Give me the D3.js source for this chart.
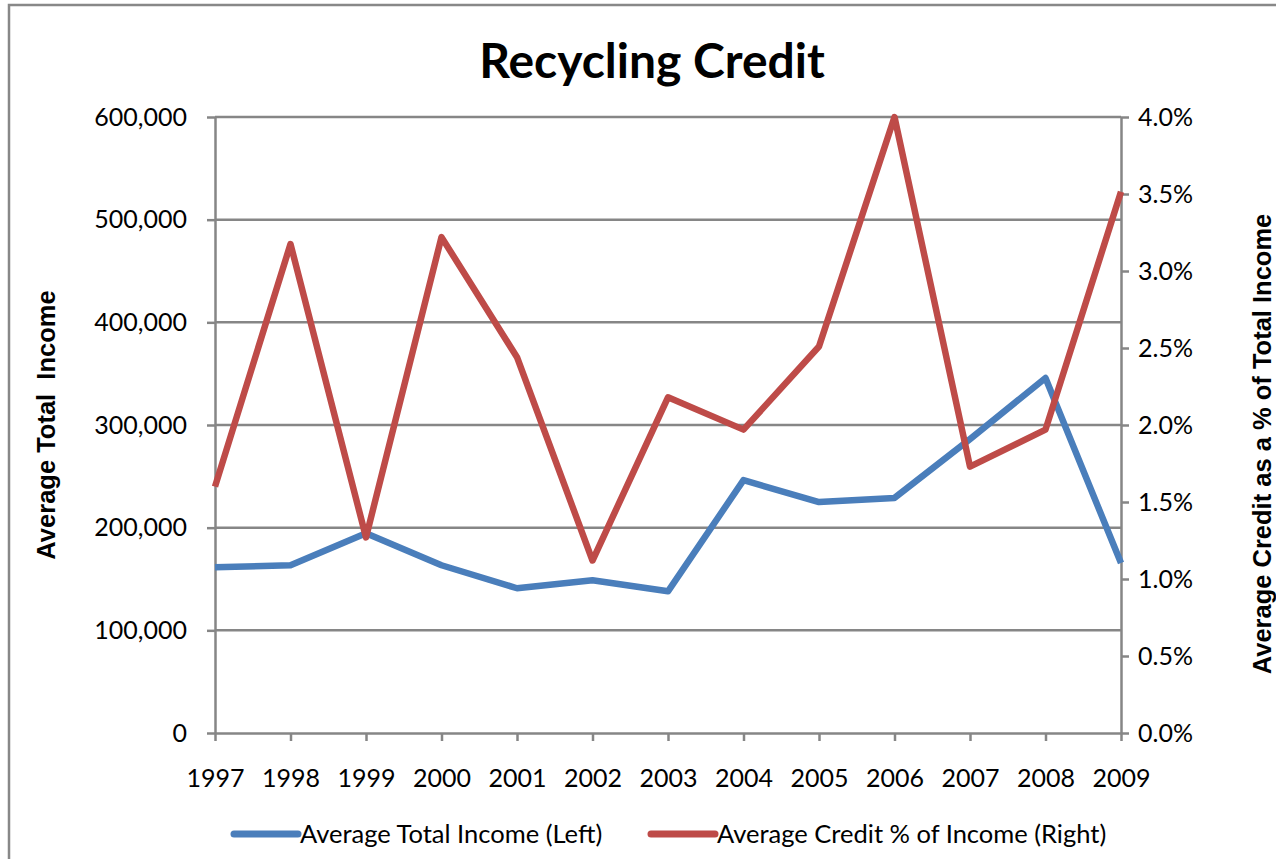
<!DOCTYPE html>
<meta charset="utf-8">
<script src="https://d3js.org/d3.v7.min.js"></script>
<style>
  body { margin: 0; background: #fff; }
  text { font-family: Lato, "Open Sans", sans-serif; fill: #000; }
</style>
<div id="chart"></div>
<script>
// data
var years = [1997, 1998, 1999, 2000, 2001, 2002, 2003, 2004, 2005, 2006, 2007, 2008, 2009];
var avgIncome = [161500, 163400, 194600, 163400, 141000, 148800, 138000, 246300, 224900, 229000, 286300, 345800, 165500];
var creditPct = [1.60, 3.175, 1.27, 3.22, 2.44, 1.12, 2.18, 1.97, 2.51, 4.00, 1.73, 1.97, 3.515];
var leftTicks = [0, 100000, 200000, 300000, 400000, 500000, 600000];
var rightTicks = [0, 0.5, 1, 1.5, 2, 2.5, 3, 3.5, 4];

var W = 1276, H = 859;
var margin = {top: 117, right: 155, bottom: 126, left: 215},
    width = W - margin.left - margin.right,
    height = H - margin.top - margin.bottom;

var svg = d3.select("#chart").append("svg")
    .attr("width", W).attr("height", H);

// outer frame
svg.append("rect")
    .attr("x", 9).attr("y", 5).attr("width", W + 10).attr("height", H + 10)
    .attr("fill", "none").attr("stroke", "#888").attr("stroke-width", 2.5);

var g = svg.append("g").attr("transform", "translate(" + margin.left + "," + margin.top + ")");

var x = d3.scaleLinear().domain([1997, 2009]).range([0, width]);
var yL = d3.scaleLinear().domain([0, 600000]).range([height, 0]);
var yR = d3.scaleLinear().domain([0, 4]).range([height, 0]);

// gridlines
g.append("g").selectAll("line").data(leftTicks.slice(1)).enter().append("line")
    .attr("x1", 0).attr("x2", width)
    .attr("y1", function(d) { return yL(d); }).attr("y2", function(d) { return yL(d); })
    .attr("stroke", "#868686").attr("stroke-width", 2.5);

function styleAxis(sel) {
  sel.select(".domain").attr("stroke", "#868686").attr("stroke-width", 2.5);
  sel.selectAll(".tick line").attr("stroke", "#868686").attr("stroke-width", 2.5);
  sel.selectAll(".tick text").style("font-size", "25px").attr("fill", "#000");
}

// left axis
var axL = g.append("g")
    .call(d3.axisLeft(yL).tickValues(leftTicks).tickSize(8).tickSizeOuter(0).tickPadding(20)
      .tickFormat(d3.format(",")));
styleAxis(axL);

// right axis
var axR = g.append("g").attr("transform", "translate(" + width + ",0)")
    .call(d3.axisRight(yR).tickValues(rightTicks).tickSize(8).tickSizeOuter(0).tickPadding(9)
      .tickFormat(function(d) { return d.toFixed(1) + "%"; }));
styleAxis(axR);

// bottom axis
var axB = g.append("g").attr("transform", "translate(0," + height + ")")
    .call(d3.axisBottom(x).tickValues(years).tickSize(8).tickSizeOuter(0).tickPadding(28)
      .tickFormat(d3.format("d")));
styleAxis(axB);

// lines
var incomeLine = d3.line()
    .x(function(d, i) { return x(years[i]); })
    .y(function(d) { return yL(d); });
var creditLine = d3.line()
    .x(function(d, i) { return x(years[i]); })
    .y(function(d) { return yR(d); });

g.append("path").datum(avgIncome)
    .attr("d", incomeLine)
    .attr("fill", "none").attr("stroke", "#4a7ebb").attr("stroke-width", 6.5)
    .attr("stroke-linejoin", "round");

g.append("path").datum(creditPct)
    .attr("d", creditLine)
    .attr("fill", "none").attr("stroke", "#be4b48").attr("stroke-width", 6.5)
    .attr("stroke-linejoin", "round");

// title
svg.append("text")
    .attr("x", 652).attr("y", 78)
    .attr("text-anchor", "middle")
    .style("font-size", "48px").style("font-weight", "bold")
    .text("Recycling Credit");

// axis titles
svg.append("text")
    .attr("transform", "translate(55," + (margin.top + height / 2) + ") rotate(-90)")
    .attr("text-anchor", "middle")
    .style("font-family", "'Liberation Sans', Arial, sans-serif")
    .style("font-size", "25.5px").style("font-weight", "bold")
    .style("white-space", "pre")
    .text("Average Total  Income");

svg.append("text")
    .attr("transform", "translate(1271," + (margin.top + height / 2 + 19) + ") rotate(-90)")
    .attr("text-anchor", "middle")
    .style("font-family", "'Liberation Sans', Arial, sans-serif")
    .style("font-size", "25.5px").style("font-weight", "bold")
    .text("Average Credit as a % of Total Income");

// legend
var legend = [
  {name: "Average Total Income (Left)", color: "#4a7ebb", x: 234},
  {name: "Average Credit % of Income (Right)", color: "#be4b48", x: 651}
];
var lg = svg.append("g").selectAll("g").data(legend).enter().append("g")
    .attr("transform", function(d) { return "translate(" + d.x + ",834)"; });
lg.append("line").attr("x1", 0).attr("x2", 64).attr("y1", 0).attr("y2", 0)
    .attr("stroke", function(d) { return d.color; }).attr("stroke-width", 7)
    .attr("stroke-linecap", "round");
lg.append("text").attr("x", 66).attr("y", 9)
    .style("font-size", "25.5px")
    .text(function(d) { return d.name; });
</script>
